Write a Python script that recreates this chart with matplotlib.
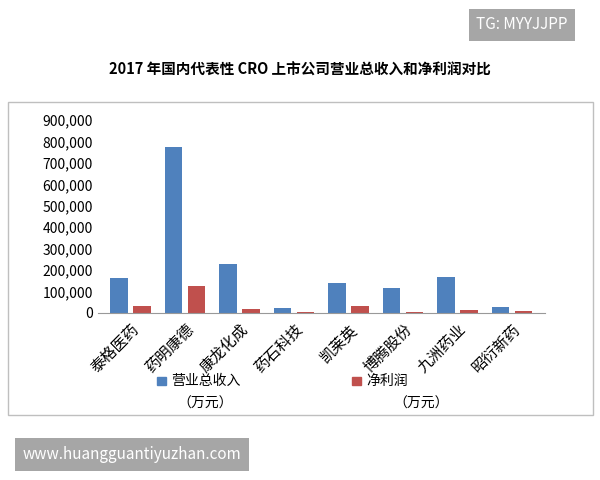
import matplotlib
matplotlib.use("Agg")
import matplotlib.pyplot as plt
from matplotlib.patches import Rectangle
import numpy as np

plt.rcParams['font.family'] = ['Noto Sans CJK SC', 'DejaVu Sans']

companies = ["泰格医药", "药明康德", "康龙化成", "药石科技", "凯莱英", "博腾股份", "九洲药业", "昭衍新药"]
revenue = [165000, 774000, 227000, 25000, 140000, 115000, 168000, 28000]
profit = [31000, 128000, 20000, 6000, 34000, 6000, 12000, 8000]
yticks = [0, 100000, 200000, 300000, 400000, 500000, 600000, 700000, 800000, 900000]

blue = '#4f81bd'
red = '#c0504d'

fig = plt.figure(figsize=(6, 4.8), dpi=100)
# outer frame of the chart area
fig.patches.append(Rectangle((0.013, 0.135), 0.975, 0.652, transform=fig.transFigure,
                             fill=False, edgecolor='#bfbfbf', linewidth=1))

ax = fig.add_axes([0.163, 0.348, 0.745, 0.402])
x = np.arange(len(companies))
w = 0.32
ax.bar(x - 0.21, revenue, w, color=blue)
ax.bar(x + 0.21, profit, w, color=red)
ax.set_xlim(-0.6, len(companies) - 0.4)
ax.set_ylim(0, 900000)
ax.set_yticks(yticks)
ax.set_yticklabels([f"{v:,}" for v in yticks], fontsize=10)
ax.set_xticks(x)
ax.set_xticklabels(companies, rotation=45, ha='right', rotation_mode='anchor', fontsize=11)
for s in ['top', 'right', 'left']:
    ax.spines[s].set_visible(False)
ax.spines['bottom'].set_color('#999999')
ax.tick_params(axis='y', length=0)
ax.tick_params(axis='x', length=0, pad=6)

fig.text(0.5, 0.845, "2017 年国内代表性 CRO 上市公司营业总收入和净利润对比", ha='center',
         fontsize=10.5, fontweight='bold')

# legend
fig.patches.append(Rectangle((0.262, 0.197), 0.014, 0.018, transform=fig.transFigure, color=blue))
fig.text(0.285, 0.206, "营业总收入", fontsize=10, va='center')
fig.text(0.295, 0.16, "（万元）", fontsize=10, va='center')
fig.patches.append(Rectangle((0.587, 0.197), 0.014, 0.018, transform=fig.transFigure, color=red))
fig.text(0.61, 0.206, "净利润", fontsize=10, va='center')
fig.text(0.655, 0.16, "（万元）", fontsize=10, va='center')

# overlays
fig.text(0.87, 0.948, "TG: MYYJJPP", ha='center', va='center', color='white', fontsize=11,
         bbox=dict(boxstyle='square,pad=0.5', fc='#a6a6a6', ec='none'))
fig.text(0.22, 0.053, "www.huangguantiyuzhan.com", ha='center', va='center', color='white', fontsize=11,
         bbox=dict(boxstyle='square,pad=0.5', fc='#a6a6a6', ec='none'))

fig.savefig("out.png", dpi=100)
